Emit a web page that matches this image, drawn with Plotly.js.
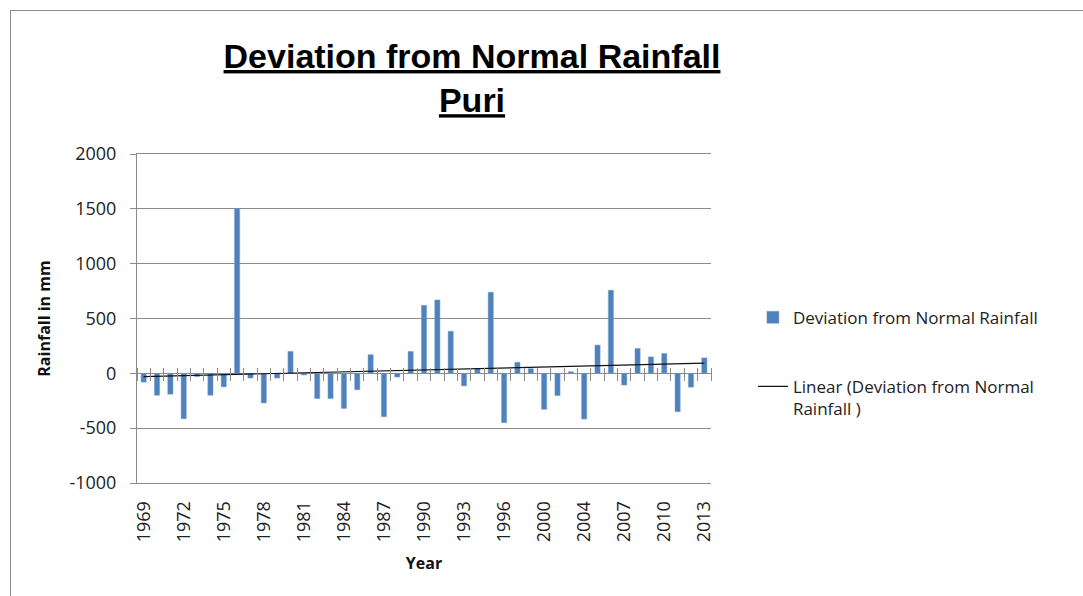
<!DOCTYPE html>
<html>
<head>
<meta charset="utf-8">
<script src="https://cdn.plot.ly/plotly-3.0.1.min.js"></script>
<style>
  html, body { margin: 0; padding: 0; background: #fff; overflow: hidden; }
  #frame { position: absolute; left: 10px; top: 10px; width: 1100px; height: 620px; border: 1.5px solid #8a8a8a; box-sizing: border-box; }
  #chart { position: absolute; left: 0; top: 0; width: 1083px; height: 596px; }
</style>
</head>
<body>
<div id="frame"></div>
<div id="chart"></div>
<script>
// ---- data ----
const years = ['1969','1970','1971','1972','1973','1974','1975','1976','1977','1978',
  '1979','1980','1981','1982','1983','1984','1985','1986','1987','1988',
  '1989','1990','1991','1992','1993','1994','1995','1996','1997','1998',
  '2000','2001','2002','2004','2005','2006','2007','2008','2009','2010',
  '2011','2012','2013'];
const deviation = [-80,-200,-190,-414,-30,-200,-123,1500,-43,-270,
  -43,200,-15,-230,-230,-320,-150,170,-396,-34,
  200,620,669,384,-114,43,740,-450,101,43,
  -328,-203,15,-417,258,758,-107,227,150,181,
  -350,-126,141];
const tickLabels = ['1969','1972','1975','1978','1981','1984','1987','1990','1993','1996','2000','2004','2007','2010','2013'];
const yTickVals = [-1000, -500, 0, 500, 1000, 1500, 2000];
const yTickText = ['-1000', '-500', '0', '500', '1000', '1500', '2000'];
const seriesName = 'Deviation from Normal Rainfall';
const trendName = 'Linear (Deviation from Normal<br>Rainfall )';

// ---- linear trendline (least squares over category index, as a spreadsheet does) ----
const n = deviation.length;
const idx = deviation.map((_, i) => i);
const mx = idx.reduce((a, b) => a + b, 0) / n;
const my = deviation.reduce((a, b) => a + b, 0) / n;
let sxy = 0, sxx = 0;
for (let i = 0; i < n; i++) { sxy += (idx[i] - mx) * (deviation[i] - my); sxx += (idx[i] - mx) ** 2; }
const slope = sxy / sxx, icpt = my - slope * mx;
const trendX = [0, n - 1];
const trendY = trendX.map(x => icpt + slope * x);
const boundaries = [];
for (let k = 0; k <= n; k++) boundaries.push(k - 0.5);

const FONT = 'Open Sans, Noto Sans, sans-serif';
const grid = '#8b8b8b';

const data = [
  { type: 'bar', x: years, y: deviation, name: seriesName,
    marker: { color: '#4F81BD', line: { color: '#7aa0cf', width: 0.5 } },
    legendgroup: 'a', hoverinfo: 'x+y' },
  { type: 'scatter', mode: 'lines', x: trendX, y: trendY, xaxis: 'x2', name: trendName,
    line: { color: '#111', width: 1.2 }, legendgroup: 'b', hoverinfo: 'skip' }
];

const layout = {
  width: 1083, height: 596,
  paper_bgcolor: 'rgba(0,0,0,0)', plot_bgcolor: 'rgba(0,0,0,0)',
  margin: { l: 137, r: 372, t: 154, b: 113 },
  font: { family: FONT, color: '#222' },
  title: {
    text: '<span style="text-decoration:underline">Deviation from Normal Rainfall</span><br><span style="text-decoration:underline">Puri</span>',
    font: { family: 'Liberation Sans, Arial, sans-serif', size: 34, color: '#000', weight: 'bold' },
    xref: 'container', x: 472 / 1083, xanchor: 'center',
    yref: 'container', y: 1 - 68 / 596, yanchor: 'top'
  },
  bargap: 0.61,
  showlegend: true,
  legend: {
    x: 1.073, xanchor: 'left', y: 0.557, yanchor: 'top',
    font: { family: FONT, size: 17, color: '#222' },
    traceorder: 'grouped', tracegroupgap: 44, valign: 'top',
    bgcolor: 'rgba(0,0,0,0)'
  },
  xaxis: {
    type: 'category', range: [-0.5, n - 0.5],
    tickmode: 'array', tickvals: tickLabels, ticktext: tickLabels,
    tickangle: -90, tickfont: { family: FONT, size: 18, color: '#222' },
    ticklabelstandoff: 10,
    ticks: '', showline: true, mirror: true, linecolor: grid, linewidth: 1,
    showgrid: false, zeroline: false,
    title: { text: 'Year', font: { family: FONT, size: 16, color: '#111', weight: 'bold' }, standoff: 16 }
  },
  xaxis2: {
    type: 'linear', overlaying: 'x', anchor: 'free', position: 1 / 3 + 6 / 329,
    range: [-0.5, n - 0.5], tickmode: 'array', tickvals: boundaries,
    ticks: 'outside', ticklen: 13, tickcolor: grid, tickwidth: 1,
    showticklabels: false, showline: false, showgrid: false, zeroline: false
  },
  yaxis: {
    range: [-1000, 2000], tickmode: 'array', tickvals: yTickVals, ticktext: yTickText,
    tickfont: { family: FONT, size: 18, color: '#222' },
    ticklabelstandoff: 10,
    showgrid: true, gridcolor: grid, gridwidth: 1,
    zeroline: true, zerolinecolor: grid, zerolinewidth: 1,
    showline: true, linecolor: grid, linewidth: 1,
    ticks: 'outside', ticklen: 6, tickcolor: grid,
    title: { text: 'Rainfall in mm', font: { family: FONT, size: 16, color: '#111', weight: 'bold' }, standoff: 14 }
  }
};

Plotly.newPlot('chart', data, layout, { displayModeBar: false, staticPlot: true });
</script>
</body>
</html>
